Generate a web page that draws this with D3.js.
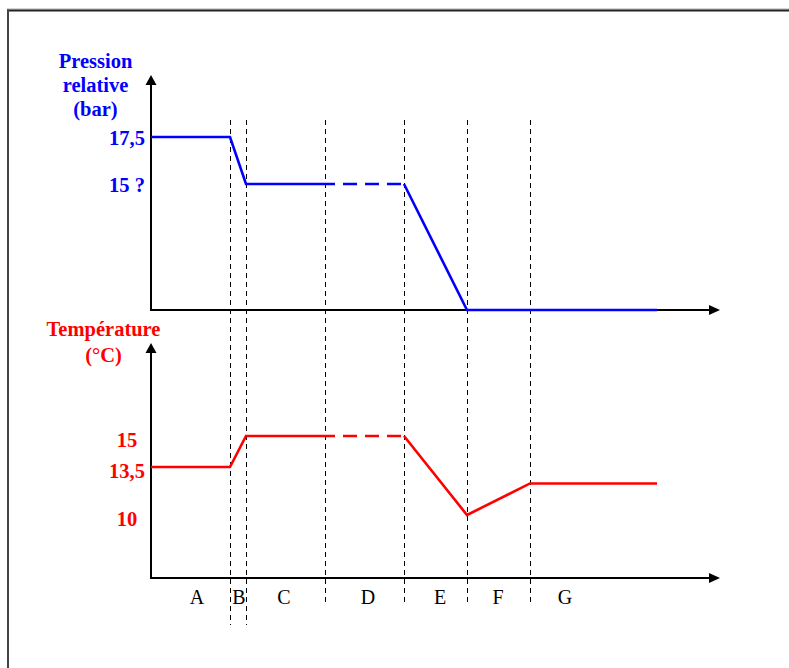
<!DOCTYPE html>
<html>
<head>
<meta charset="utf-8">
<script src="https://cdn.jsdelivr.net/npm/d3@7"></script>
<style>
  html, body { margin: 0; padding: 0; background: #fff; }
  svg { display: block; }
</style>
</head>
<body>
<svg id="chart" width="789" height="668"></svg>
<script>
// ---------- data ----------
const phases = ["A", "B", "C", "D", "E", "F", "G"];
const phaseLabelT = [46, 88, 133, 217, 289, 347, 414];       // time units where the letters sit
const boundaries = [79, 95, 174, 253, 316, 379];               // phase boundaries (time units)
const longBoundaries = [79, 95];                               // boundaries drawn longer (around B)
const timeEnd = 569;                                           // end of time axis

// pressure (bar) — solid parts and the dashed (uncertain) part in phase D
const pressureT = [0, 79, 95, 174];
const pressureV = [17.5, 17.5, 15, 15];
const pressureDashT = [174, 253];
const pressureDashV = [15, 15];
const pressureT2 = [253, 316, 506];
const pressureV2 = [15, 0, 0];
const pressureTicks = [17.5, 15];
const pressureTickLabels = ["17,5", "15 ?"];

// temperature (°C)
const tempT = [0, 79, 95, 174];
const tempV = [13.5, 13.5, 15, 15];
const tempDashT = [174, 253];
const tempDashV = [15, 15];
const tempT2 = [253, 316, 379, 506];
const tempV2 = [15, 10, 12.3, 12.3];
const tempTicks = [15, 13.5, 10];
const tempTickLabels = ["15", "13,5", "10"];

// ---------- drawing ----------
const svg = d3.select("#chart");
const BLUE = "#0000ff", RED = "#ff0000";
const SERIF = "'Liberation Serif', 'Times New Roman', serif";

// frame
svg.append("line").attr("x1", 7).attr("x2", 789).attr("y1", 9).attr("y2", 9)
  .attr("stroke", "#aaa").attr("stroke-width", 1);
svg.append("line").attr("x1", 7).attr("x2", 789).attr("y1", 10.5).attr("y2", 10.5)
  .attr("stroke", "#222").attr("stroke-width", 2);
svg.append("line").attr("x1", 8).attr("x2", 8).attr("y1", 9.5).attr("y2", 668)
  .attr("stroke", "#444").attr("stroke-width", 2);

const x = d3.scaleLinear().domain([0, timeEnd]).range([151, 720]);
// schematic (non-linear) vertical scales
const yP = d3.scaleLinear().domain([0, 15, 17.5]).range([310, 184, 137]);
const yT = d3.scaleLinear().domain([10, 13.5, 15]).range([515, 467, 436]);

const xAxisYTop = yP(0);
const xAxisYBot = 578;

// vertical dashed phase boundaries (crisp 1px)
svg.append("g").selectAll("line").data(boundaries).join("line")
  .attr("x1", d => Math.round(x(d)) + 0.5).attr("x2", d => Math.round(x(d)) + 0.5)
  .attr("y1", 120)
  .attr("y2", d => longBoundaries.includes(d) ? 625 : 606)
  .attr("stroke", "#000").attr("stroke-width", 1)
  .attr("stroke-dasharray", "5,4");

// axes with arrows
function axisArrows(yAxisTop, xAxisY) {
  const g = svg.append("g");
  g.append("line").attr("x1", x(0)).attr("x2", x(0)).attr("y1", yAxisTop + 6).attr("y2", xAxisY + 1)
    .attr("stroke", "#000").attr("stroke-width", 2);
  g.append("line").attr("x1", x(0)).attr("x2", x(timeEnd) - 6).attr("y1", xAxisY).attr("y2", xAxisY)
    .attr("stroke", "#000").attr("stroke-width", 2);
  g.append("path")
    .attr("d", `M${x(0)},${yAxisTop} L${x(0) - 5.5},${yAxisTop + 10} L${x(0) + 5.5},${yAxisTop + 10} Z`)
    .attr("fill", "#000");
  g.append("path")
    .attr("d", `M${x(timeEnd)},${xAxisY} L${x(timeEnd) - 11},${xAxisY - 5} L${x(timeEnd) - 11},${xAxisY + 5} Z`)
    .attr("fill", "#000");
}
axisArrows(75, xAxisYTop);
axisArrows(343, xAxisYBot);

// tick labels via d3 axes
function tickAxis(scale, ticks, labels, color, dy) {
  const g = svg.append("g").attr("transform", `translate(${x(0)},0)`)
    .call(d3.axisLeft(scale).tickValues(ticks).tickFormat((d, i) => labels[i]).tickSize(0));
  g.select(".domain").remove();
  g.selectAll("text")
    .attr("x", -24).attr("dy", dy)
    .attr("text-anchor", "middle")
    .attr("fill", color)
    .style("font-family", SERIF).style("font-size", "20.5px").style("font-weight", "bold");
}
tickAxis(yP, pressureTicks, pressureTickLabels, BLUE, "0.35em");
tickAxis(yT, tempTicks, tempTickLabels, RED, "0.5em");

// axis titles
function title(lines, cx, baselines, color) {
  svg.append("g").selectAll("text").data(lines).join("text")
    .attr("x", cx).attr("y", (d, i) => baselines[i])
    .attr("text-anchor", "middle").attr("fill", color)
    .style("font-family", SERIF).style("font-size", "20.5px").style("font-weight", "bold")
    .text(d => d);
}
title(["Pression", "relative", "(bar)"], 95.5, [68, 92, 116], BLUE);
title(["Température", "(°C)"], 103.5, [336, 362], RED);

// series lines
function series(ts, vs, scale, color, dash) {
  const line = d3.line().x(d => x(d[0])).y(d => scale(d[1]));
  const p = svg.append("path")
    .datum(ts.map((t, i) => [t, vs[i]]))
    .attr("d", line)
    .attr("fill", "none").attr("stroke", color).attr("stroke-width", 2.6)
    .attr("stroke-linejoin", "miter");
  if (dash) p.attr("stroke-dasharray", "14,8").attr("stroke-dashoffset", 4);
}
series(pressureT, pressureV, yP, BLUE, false);
series(pressureDashT, pressureDashV, yP, BLUE, true);
series(pressureT2, pressureV2, yP, BLUE, false);
series(tempT, tempV, yT, RED, false);
series(tempDashT, tempDashV, yT, RED, true);
series(tempT2, tempV2, yT, RED, false);

// phase letters
svg.append("g").selectAll("text").data(phases).join("text")
  .attr("x", (d, i) => x(phaseLabelT[i])).attr("y", 604)
  .attr("text-anchor", "middle").attr("fill", "#000")
  .style("font-family", SERIF).style("font-size", "20px")
  .text(d => d);
</script>
</body>
</html>
